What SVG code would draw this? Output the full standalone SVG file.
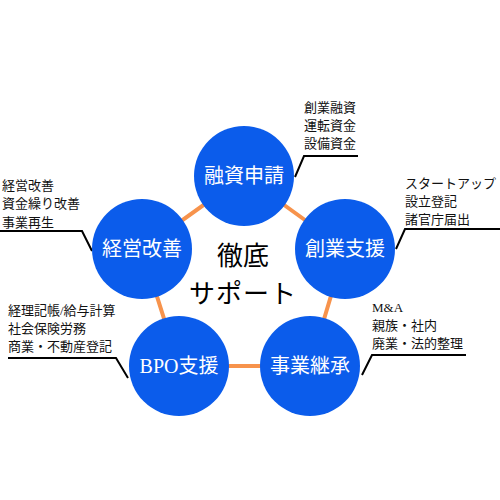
<svg xmlns="http://www.w3.org/2000/svg" width="500" height="500" viewBox="0 0 500 500">
<style>
.node{fill:#0B5CEB}
.lbl{fill:#fff;font-family:"Liberation Serif","Noto Sans CJK JP",serif;font-size:20px;text-anchor:middle;dominant-baseline:central}
.note{fill:#111;font-family:"Liberation Serif","Noto Sans CJK JP",serif;font-size:13px;dominant-baseline:central}
.edge{stroke:#F7934C;stroke-width:4;fill:none}
.call{stroke:#000;stroke-width:2;fill:none}
.center{fill:#000;font-family:"Liberation Serif","Noto Sans CJK JP",serif;font-size:26px;text-anchor:middle;dominant-baseline:central}
</style>
<rect width="500" height="500" fill="#fff"/>
<g id="connectors">
<polygon class="edge" points="244,176 345,249 310,366 179,366 142,249"/>
<polyline class="call" points="295,177 304,156 358,156"/>
<polyline class="call" points="396,249 405,229 500,229"/>
<polyline class="call" points="362,375 372,355 466,355"/>
<polyline class="call" points="0,231 82,231 92,251"/>
<polyline class="call" points="8,358 116,358 128,378"/>
</g>
<g id="center">
<text class="center" x="243" y="256">徹底</text>
<text class="center" x="243" y="294" letter-spacing="1">サポート</text>
</g>
<g id="n1">
<circle class="node" cx="244" cy="176" r="50"/>
<text class="lbl" x="244" y="176">融資申請</text>
<text class="note" x="304" y="107">創業融資</text>
<text class="note" x="304" y="125">運転資金</text>
<text class="note" x="304" y="143">設備資金</text>
</g>
<g id="n2">
<circle class="node" cx="345" cy="249" r="50"/>
<text class="lbl" x="345" y="249">創業支援</text>
<text class="note" x="405" y="183">スタートアップ</text>
<text class="note" x="405" y="201">設立登記</text>
<text class="note" x="405" y="219">諸官庁届出</text>
</g>
<g id="n3">
<circle class="node" cx="310" cy="366" r="50"/>
<text class="lbl" x="310" y="366">事業継承</text>
<text class="note" x="372" y="307">M&amp;A</text>
<text class="note" x="372" y="325">親族・社内</text>
<text class="note" x="372" y="343">廃業・法的整理</text>
</g>
<g id="n4">
<circle class="node" cx="179" cy="366" r="50"/>
<text class="lbl" x="179" y="366">BPO支援</text>
<text class="note" x="8" y="310">経理記帳/給与計算</text>
<text class="note" x="8" y="328">社会保険労務</text>
<text class="note" x="8" y="346">商業・不動産登記</text>
</g>
<g id="n5">
<circle class="node" cx="142" cy="249" r="50"/>
<text class="lbl" x="142" y="249">経営改善</text>
<text class="note" x="2" y="185">経営改善</text>
<text class="note" x="2" y="203">資金繰り改善</text>
<text class="note" x="2" y="222">事業再生</text>
</g>
</svg>
